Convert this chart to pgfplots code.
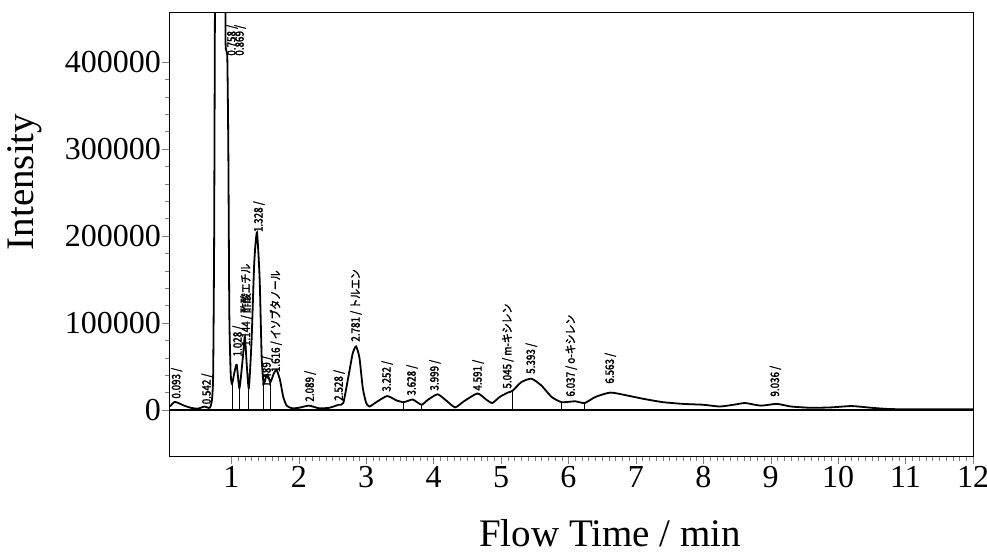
\documentclass[border=0pt]{standalone}
\usepackage{fontspec}
\setmainfont{Liberation Serif}
\newfontfamily\cjk[FakeBold=2,FakeStretch=0.85]{Noto Sans CJK JP}
\usepackage{pgfplots}
\pgfplotsset{compat=1.18}
\begin{document}
\begin{tikzpicture}
\useasboundingbox (-85pt,-48.5pt) rectangle (408.5pt,228pt);
\begin{axis}[
  at={(0pt,0pt)}, anchor=south west,
  scale only axis, width=401.5pt, height=222pt,
  xmin=0.09, xmax=12, ymin=-52900, ymax=457500,
  xtick={1,2,3,4,5,6,7,8,9,10,11,12},
  xticklabels={1,2,3,4,5,6,7,8,9,10,11,12},
  ytick={0,100000,200000,300000,400000},
  yticklabels={0,100000,200000,300000,400000},
  minor x tick num=9, minor y tick num=4,
  tick align=outside, xtick pos=left, ytick pos=left,
  major tick length=4pt, minor tick length=2.5pt,
  tick label style={font=\fontsize{16}{18}\selectfont},
  yticklabel style={xshift=3pt},
  xticklabel style={yshift=2.5pt},
  label style={font=\fontsize{19.5}{22}\selectfont},
  xlabel={Flow Time / min}, ylabel={Intensity},
  x label style={at={(axis description cs:0.548,-0.174)}, anchor=center},
  y label style={at={(axis description cs:-0.181,0.617)}, anchor=center},
  axis line style={line width=0.5pt},
]
% zero line
\addplot[line width=0.6pt, mark=none] coordinates {(0.09,0) (12,0)};

% chromatogram trace
\addplot[line width=0.9pt, mark=none, smooth, tension=0.35] coordinates {
(0.09,4000) (0.15,9000) (0.20,8500) (0.30,5000) (0.40,2500) (0.50,1500)
(0.56,3000) (0.60,4000) (0.64,3000) (0.68,2500) (0.71,10000) (0.73,40000)
(0.745,200000) (0.757,470000) (0.765,520000) (0.905,520000) (0.915,420000)
(0.94,405000) (0.955,300000) (0.97,110000) (0.99,42000) (1.01,30000)
(1.05,45000) (1.08,52000) (1.12,25000) (1.17,60000) (1.20,84000)
(1.23,50000) (1.26,25000) (1.30,80000) (1.34,170000) (1.38,204000)
(1.42,150000) (1.45,60000) (1.48,30000) (1.52,40000) (1.55,38000)
(1.58,32000) (1.63,42000) (1.67,46000) (1.72,35000) (1.77,15000)
(1.82,5000) (1.90,2000) (2.00,2500) (2.15,5000) (2.30,2000) (2.45,2500)
(2.59,6000) (2.66,8000) (2.74,40000) (2.80,65000) (2.85,73000)
(2.90,60000) (2.95,25000) (3.00,8000) (3.05,4000) (3.15,9000)
(3.31,16000) (3.45,11000) (3.56,9000) (3.69,12000) (3.82,6000)
(3.92,12000) (4.06,18000) (4.20,10000) (4.32,3000) (4.45,10000)
(4.65,19000) (4.78,12000) (4.87,8000) (4.98,15000) (5.10,20000)
(5.17,22000) (5.30,32000) (5.45,36000) (5.60,28000) (5.75,15000)
(5.90,9000) (6.10,10000) (6.24,8000) (6.40,15000) (6.62,20000)
(6.85,17000) (7.10,13000) (7.40,9000) (7.70,7000) (8.00,6000)
(8.24,4000) (8.45,6000) (8.62,8000) (8.85,5000) (9.09,7000)
(9.30,4000) (9.60,2500) (9.90,3000) (10.20,4500) (10.50,2500)
(10.80,1000) (11.50,800) (12.00,800)
};

% integration drop lines
\addplot[ycomb, line width=0.5pt, mark=none] coordinates {
(1.01,30000) (1.12,25000) (1.26,25000) (1.48,30000) (1.58,32000)
(3.56,9000) (3.82,6000) (5.17,22000) (5.90,9000) (6.24,8000)
};

% peak labels
\addplot[draw=none, mark=none, point meta=explicit symbolic,
  nodes near coords={\pgfplotspointmeta},
  every node near coord/.append style={anchor=west, rotate=90, inner sep=0.5pt,
    font=\cjk\fontsize{5.8}{6}\selectfont}] coordinates {
(0.19,11500) [0.093 /]
(0.64,5000) [0.542 /]
(1.01,405700) [0.758 /]
(1.13,405700) [0.869 /]
(1.10,60000) [1.028 /]
(1.22,72000) [1.144 / 酢酸エチル]
(1.41,203000) [1.328 /]
(1.53,25000) [1.489 /]
(1.66,42000) [1.616 / イソブタノール]
(2.17,8000) [2.089 /]
(2.60,9000) [2.528 /]
(2.85,77000) [2.781 / トルエン]
(3.31,19500) [3.252 /]
(3.68,15000) [3.628 /]
(4.02,20700) [3.999 /]
(4.66,20700) [4.591 /]
(5.10,23000) [5.045 / m-キシレン]
(5.45,40000) [5.393 /]
(6.04,13800) [6.037 / o-キシレン]
(6.62,28700) [6.563 /]
(9.07,13800) [9.036 /]
};
\end{axis}
\end{tikzpicture}
\end{document}
